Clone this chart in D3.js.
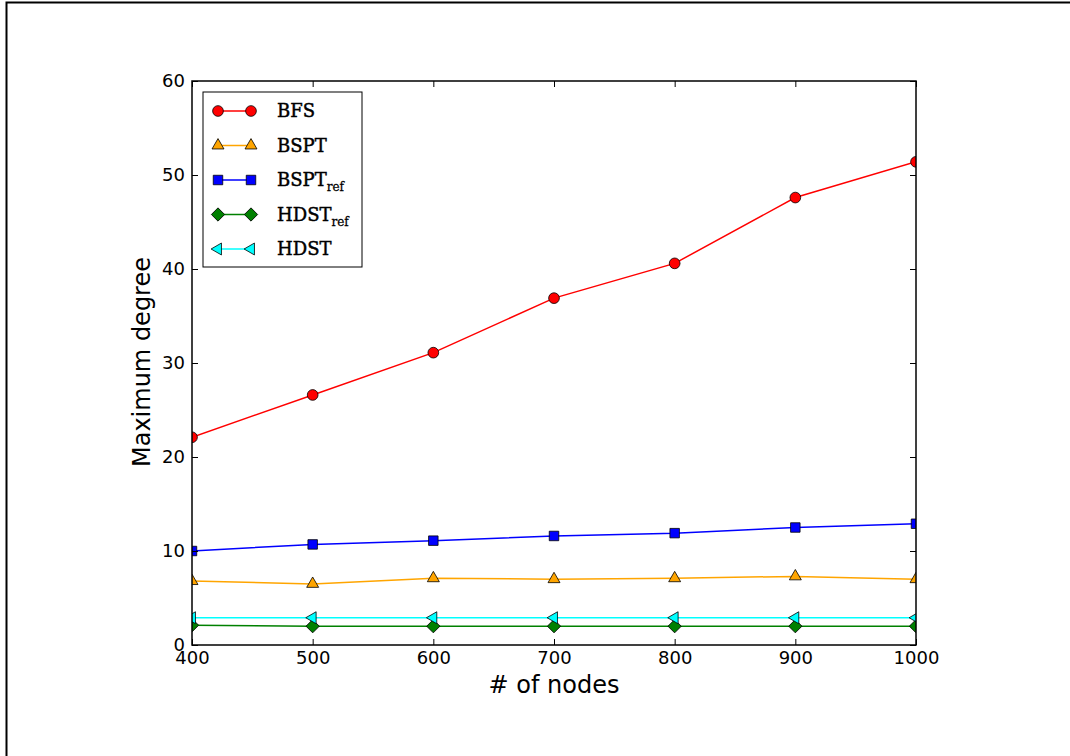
<!DOCTYPE html>
<html>
<head>
<meta charset="utf-8">
<script src="https://cdn.jsdelivr.net/npm/d3@7"></script>
<style>
  body { margin: 0; background: #fff; }
  svg { display: block; }
  .legend-text { font-family: "DejaVu Serif", "Liberation Serif", serif; }
</style>
</head>
<body>
<div id="chart-area"></div>
<script>
// Data
// ****
const nodes = [400, 500, 600, 700, 800, 900, 1000]
const bfs = [22.1, 26.6, 31.1, 36.9, 40.6, 47.6, 51.4]
const bspt = [6.8, 6.5, 7.1, 7.0, 7.1, 7.3, 7.0]
const bsptRef = [10.0, 10.7, 11.1, 11.6, 11.9, 12.5, 12.9]
const hdstRef = [2.1, 2.0, 2.0, 2.0, 2.0, 2.0, 2.0]
const hdst = [2.9, 2.9, 2.9, 2.9, 2.9, 2.9, 2.9]
const xTicks = [400, 500, 600, 700, 800, 900, 1000]
const yTicks = [0, 10, 20, 30, 40, 50, 60]

const series = [
	{name: "BFS", sub: null, values: bfs, color: "#ff0000", marker: "circle"},
	{name: "BSPT", sub: null, values: bspt, color: "#ffa500", marker: "triangle"},
	{name: "BSPT", sub: "ref", values: bsptRef, color: "#0000ff", marker: "square"},
	{name: "HDST", sub: "ref", values: hdstRef, color: "#008000", marker: "diamond"},
	{name: "HDST", sub: null, values: hdst, color: "#00ffff", marker: "tleft"}
]

// Config
// ******
const W = 1070, H = 756
const margin = {top: 81, left: 192}
const width = 724, height = 564

const svg = d3.select("#chart-area").append("svg")
	.attr("width", W).attr("height", H)

// page border (top and left edges visible)
svg.append("path")
	.attr("d", "M6.5," + H + "V2.5H" + W)
	.attr("fill", "none").attr("stroke", "#000").attr("stroke-width", 2)

const g = svg.append("g").attr("transform", "translate(" + margin.left + "," + margin.top + ")")

const x = d3.scaleLinear().domain([400, 1000]).range([0, width])
const y = d3.scaleLinear().domain([0, 60]).range([height, 0])

g.append("clipPath").attr("id", "clip")
	.append("rect").attr("width", width).attr("height", height)

function markerPath(type) {
	if (type === "circle") return d3.symbol(d3.symbolCircle, 90)()
	if (type === "square") return d3.symbol(d3.symbolSquare, 90)()
	if (type === "diamond") return d3.symbol(d3.symbolSquare, 88)()
	return d3.symbol(d3.symbolTriangle, 62)()
}
function markerRotate(type) {
	if (type === "diamond") return 45
	if (type === "tleft") return -90
	return 0
}

// Lines & Markers
// ***************
const line = d3.line().x((d, i) => x(nodes[i])).y(d => y(d))
const plot = g.append("g").attr("clip-path", "url(#clip)")

series.forEach(s => {
	plot.append("path")
		.attr("d", line(s.values))
		.attr("fill", "none")
		.attr("stroke", s.color)
		.attr("stroke-width", 1.5)
	plot.selectAll(null).data(s.values).enter().append("path")
		.attr("d", markerPath(s.marker))
		.attr("transform", (d, i) => "translate(" + x(nodes[i]) + "," + y(d) + ") rotate(" + markerRotate(s.marker) + ")")
		.attr("fill", s.color)
		.attr("stroke", "#000")
		.attr("stroke-width", 0.8)
})

// Axes
// ****
const tickFont = "DejaVu Sans, sans-serif"
const xAxis = g.append("g").attr("transform", "translate(0," + height + ")")
	.call(d3.axisBottom(x).tickValues(xTicks).tickSizeInner(-6).tickSizeOuter(0).tickFormat(d3.format("d")))
const xAxisTop = g.append("g")
	.call(d3.axisTop(x).tickValues(xTicks).tickSizeInner(-6).tickSizeOuter(0).tickFormat(""))
const yAxis = g.append("g")
	.call(d3.axisLeft(y).tickValues(yTicks).tickSizeInner(-6).tickSizeOuter(0).tickFormat(d3.format("d")))
const yAxisRight = g.append("g").attr("transform", "translate(" + width + ",0)")
	.call(d3.axisRight(y).tickValues(yTicks).tickSizeInner(-6).tickSizeOuter(0).tickFormat(""))

g.selectAll(".domain").remove()
g.selectAll(".tick line").attr("stroke", "#000").attr("stroke-width", 1)
g.selectAll(".tick text").attr("font-family", tickFont).attr("font-size", 18).attr("fill", "#000")
xAxis.selectAll(".tick text").attr("dy", "0.71em").attr("y", 6)
yAxis.selectAll(".tick text").attr("x", -7).attr("dy", "0.3em")

g.append("rect")
	.attr("width", width).attr("height", height)
	.attr("fill", "none").attr("stroke", "#000").attr("stroke-width", 1.5)

// Labels
g.append("text")
	.attr("x", width / 2).attr("y", height + 48)
	.attr("text-anchor", "middle")
	.attr("font-family", tickFont).attr("font-size", 24)
	.text("# of nodes")
g.append("text")
	.attr("transform", "translate(-42," + (height / 2 - 1) + ") rotate(-90)")
	.attr("text-anchor", "middle")
	.attr("font-family", tickFont).attr("font-size", 24)
	.text("Maximum degree")

// Legend
// ******
const legend = g.append("g").attr("transform", "translate(11,11)")
legend.append("rect")
	.attr("width", 159).attr("height", 175)
	.attr("fill", "#fff").attr("stroke", "#000").attr("stroke-width", 1)

series.forEach((s, i) => {
	const ly = 19 + i * 34.5
	const row = legend.append("g").attr("transform", "translate(0," + ly + ")")
	row.append("line").attr("x1", 15).attr("x2", 48)
		.attr("stroke", s.color).attr("stroke-width", 1.5)
	;[15, 48].forEach(mx => {
		row.append("path")
			.attr("d", markerPath(s.marker))
			.attr("transform", "translate(" + mx + ",0) rotate(" + markerRotate(s.marker) + ")")
			.attr("fill", s.color).attr("stroke", "#000").attr("stroke-width", 0.8)
	})
	const t = row.append("text")
		.attr("class", "legend-text")
		.attr("x", 74).attr("dy", "0.36em")
		.attr("font-size", 18)
		.attr("stroke", "#000").attr("stroke-width", 0.45)
		.text(s.name)
	if (s.sub) {
		t.append("tspan").attr("dy", 5).attr("font-size", 12).attr("stroke-width", 0.3).text(s.sub)
	}
})
</script>
</body>
</html>
